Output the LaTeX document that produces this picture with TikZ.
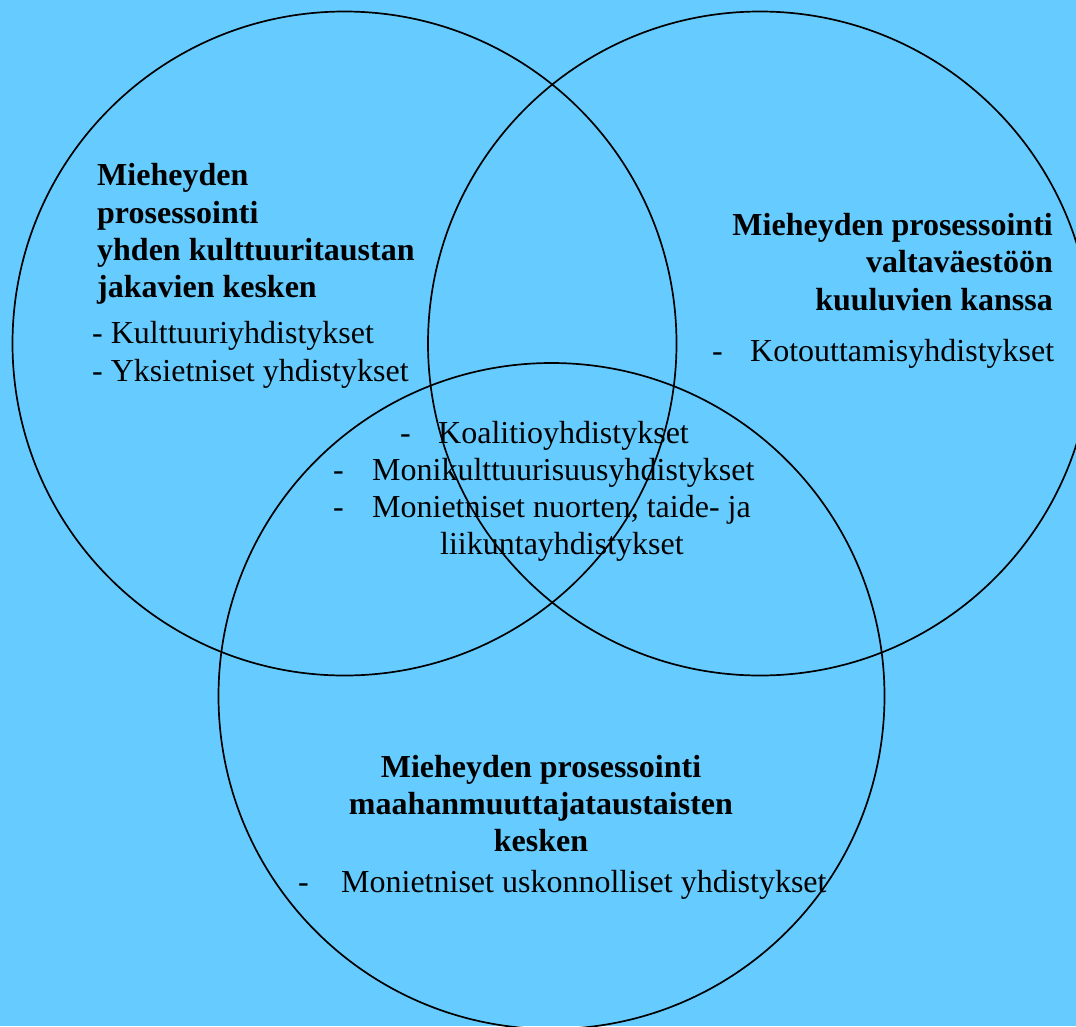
\documentclass[tikz,border=0pt]{standalone}
\usepackage{fontspec}
\setmainfont{Liberation Serif}
\definecolor{sky}{RGB}{102,204,255}
\tikzset{
  ring/.style={circle, draw=black, line width=1.7pt, inner sep=0pt, minimum size=664pt},
  head/.style={font=\fontsize{32}{37.5}\selectfont\bfseries, inner sep=0pt},
  item/.style={font=\fontsize{32}{37.5}\selectfont, inner sep=0pt}
}
\newcommand{\dashtab}[1]{\makebox[#1][l]{-}}

\begin{document}
\begin{tikzpicture}[x=1pt,y=-1pt]
            % Page and background
            \useasboundingbox (0,0) rectangle (1076,1026);
            \fill[sky] (0,0) rectangle (1076,1026);
            \clip (0,0) rectangle (1076,1026);

            % The three circles
            \node[ring] (cl) at (344.5,343.5) {};
            \node[ring] (cr) at (760,343.5) {};
            \node[ring, minimum size=666pt] (cb) at (551.5,696) {};

            % Left circle
            \node[head, anchor=base west] (l1) at (97,185) {Mieheyden};
            \node[head, anchor=base west] (l2) at (97,223) {prosessointi};
            \node[head, anchor=base west] (l3) at (97,260) {yhden kulttuuritaustan};
            \node[head, anchor=base west] (l4) at (97,297) {jakavien kesken};
            \node[item, anchor=base west] (la) at (92,343) {- Kulttuuriyhdistykset};
            \node[item, anchor=base west] (lb) at (92,381) {- Yksietniset yhdistykset};

            % Right circle
            \node[head, anchor=base east] (r1) at (1053,235) {Mieheyden prosessointi};
            \node[head, anchor=base east] (r2) at (1053,272) {valtaväestöön};
            \node[head, anchor=base east] (r3) at (1053,310) {kuuluvien kanssa};
            \node[item, anchor=base west] (ra) at (712,361) {\dashtab{38pt}Kotouttamisyhdistykset};

            % Middle
            \node[item, anchor=base west] (m1) at (400,443) {\dashtab{38pt}Koalitioyhdistykset};
            \node[item, anchor=base west] (m2) at (333,480) {\dashtab{39pt}Monikulttuurisuusyhdistykset};
            \node[item, anchor=base west] (m3) at (333,517) {\dashtab{39pt}Monietniset nuorten, taide- ja};
            \node[item, anchor=base west] (m4) at (440,554) {liikuntayhdistykset};

            % Bottom circle
            \node[head, anchor=base] (b1) at (541,777) {Mieheyden prosessointi};
            \node[head, anchor=base] (b2) at (541,814) {maahanmuuttajataustaisten};
            \node[head, anchor=base] (b3) at (541,851) {kesken};
            \node[item, anchor=base west] (ba) at (298,892) {\dashtab{43pt}Monietniset uskonnolliset yhdistykset};
        \end{tikzpicture}
\end{document}
